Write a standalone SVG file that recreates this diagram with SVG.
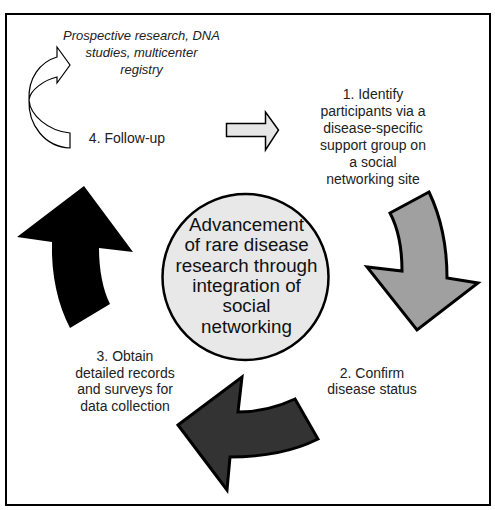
<svg xmlns="http://www.w3.org/2000/svg" width="495" height="510" viewBox="0 0 495 510">
<style>
.lbl{font-family:"Liberation Sans",Arial,sans-serif;font-size:14px;fill:#222;text-anchor:middle}
.it{font-family:"Liberation Sans",Arial,sans-serif;font-size:13px;font-style:italic;fill:#222;text-anchor:middle}
.ctr{font-family:"Liberation Sans",Arial,sans-serif;font-size:18.8px;fill:#111;text-anchor:middle}
.arrow{stroke:#000;stroke-linejoin:miter}
</style>
<rect x="0" y="0" width="495" height="510" fill="#fff"/>
<rect x="6" y="14" width="484" height="491" fill="#fff" stroke="#000" stroke-width="2"/>
<g id="center">
<circle cx="245.5" cy="277" r="83" fill="#e8e8e8" stroke="#000" stroke-width="2.5"/>
<text class="ctr" x="246.5" y="231">Advancement</text>
<text class="ctr" x="246.5" y="251.3">of rare disease</text>
<text class="ctr" x="246.5" y="271.6">research through</text>
<text class="ctr" x="246.5" y="292">integration of</text>
<text class="ctr" x="246.5" y="312">social</text>
<text class="ctr" x="246.5" y="332.5">networking</text>
</g>
<g id="step1">
<text class="lbl" x="373" y="99">1. Identify</text>
<text class="lbl" x="373" y="116">participants via a</text>
<text class="lbl" x="373" y="133">disease-specific</text>
<text class="lbl" x="373" y="150">support group on</text>
<text class="lbl" x="373" y="166.5">a social</text>
<text class="lbl" x="373" y="183.5">networking site</text>
</g>
<g id="step2">
<text class="lbl" x="372" y="377.5">2. Confirm</text>
<text class="lbl" x="372" y="394.3">disease status</text>
</g>
<g id="step3">
<text class="lbl" x="125" y="360.7">3. Obtain</text>
<text class="lbl" x="125" y="377.5">detailed records</text>
<text class="lbl" x="125" y="394.3">and surveys for</text>
<text class="lbl" x="125" y="411">data collection</text>
</g>
<g id="step4">
<text class="lbl" x="127" y="143">4. Follow-up</text>
</g>
<g id="outcome">
<text class="it" x="141.5" y="40">Prospective research, DNA</text>
<text class="it" x="141.5" y="57">studies, multicenter</text>
<text class="it" x="141.5" y="74">registry</text>
</g>
<g id="connectors">
<path class="arrow" d="M390,213 L429,192 C440,215 447,245 447,278 L478,283 L417,330 L367,267 L402,271 C402,250 398,228 390,213 Z" fill="#a0a0a0" stroke-width="3"/>
<path class="arrow" d="M178,425 L242,377 L238,412 C258,412 278,407 295,399 L318,439 C292,452 260,457 230,457 L227,490 Z" fill="#333" stroke-width="3"/>
<path d="M84,186 L133,252 L99,248 C99,270 103,290 110,304 L70,328 C58,305 51,275 52,242 L17,237 Z" fill="#000"/>
<path class="arrow" d="M226.5,123.5 L265.5,123.5 L265.5,112 L278.5,130 L265.5,150 L265.5,136.5 L226.5,136.5 Z" fill="#e6e6e6" stroke-width="1.5"/>
<path class="arrow" d="M57,57 L57,47 L70,65 L57,83 L57,77 C44,80 30,90 29,100 C30,115 48,131 70,133 L70,148 C45,147 28,125 29,100 C28,78 40,62 57,57 Z" fill="#fff" stroke-width="1.2"/>
</g>
</svg>
